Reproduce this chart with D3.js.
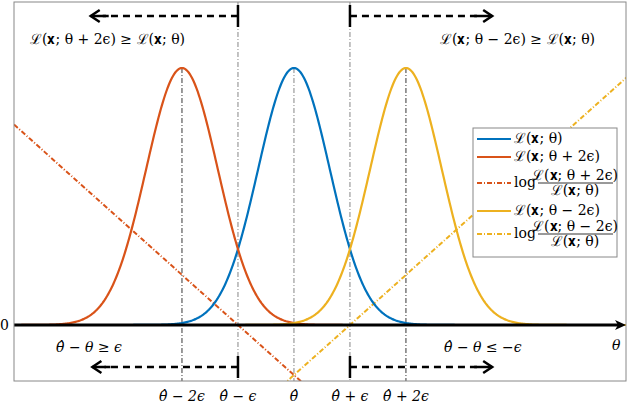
<!DOCTYPE html>
<html><head><meta charset="utf-8">
<script src="https://cdn.jsdelivr.net/npm/d3@7"></script>
<style>
body{margin:0;background:#fff}
text{font-family:"DejaVu Serif",serif;font-size:14px}
</style></head><body>
<svg id="c" width="630" height="406"></svg>
<script>
// values in units of epsilon, theta-hat = 0
var centers = [0, -2, 2]           // L(x;theta), L(x;theta+2e), L(x;theta-2e)
var colors = ["#0072BD", "#D95319", "#EDB120"]
var sigma = 0.64
var slope = 0.195                  // log-ratio line slope
var tickVals = [-2, -1, 0, 1, 2]
var tickLabels = ["θ̂ − 2ϵ", "θ̂ − ϵ", "θ̂", "θ̂ + ϵ", "θ̂ + 2ϵ"]

var svg = d3.select("#c")
var x = d3.scaleLinear().domain([-5, 5.93]).range([14, 626])
var y = d3.scaleLinear().domain([-0.218, 1.257]).range([381, 2])

svg.append("defs").append("clipPath").attr("id", "clip")
  .append("rect").attr("x", 14).attr("y", 2).attr("width", 612).attr("height", 379)

var g = svg.append("g").attr("clip-path", "url(#clip)")

var xs = d3.range(-5, 5.95, 0.02)
var line = d3.line().x(function(d){ return x(d[0]) }).y(function(d){ return y(d[1]) })

// vertical guide lines
;[-2, 2].forEach(function(v){
  g.append("line").attr("x1", x(v)).attr("x2", x(v)).attr("y1", y(1)).attr("y2", 381)
    .attr("stroke", "#000").attr("stroke-width", 0.8).attr("stroke-dasharray", "5,2,1,2")
})
g.append("line").attr("x1", x(0)).attr("x2", x(0)).attr("y1", y(1)).attr("y2", 381)
  .attr("stroke", "#666").attr("stroke-width", 0.8).attr("stroke-dasharray", "5,2,1,2")
;[-1, 1].forEach(function(v){
  g.append("line").attr("x1", x(v)).attr("x2", x(v)).attr("y1", 2).attr("y2", 381)
    .attr("stroke", "#666").attr("stroke-width", 0.8).attr("stroke-dasharray", "5,2,1,2")
})

// log ratio lines
g.append("path").datum(xs.map(function(t){ return [t, -slope * (t + 1)] }))
  .attr("d", line).attr("fill", "none").attr("stroke", colors[1]).attr("stroke-width", 2)
  .attr("stroke-dasharray", "5,2,1,2")
g.append("path").datum(xs.map(function(t){ return [t, slope * (t - 1)] }))
  .attr("d", line).attr("fill", "none").attr("stroke", colors[2]).attr("stroke-width", 2)
  .attr("stroke-dasharray", "5,2,1,2")

// gaussians
centers.forEach(function(c, i){
  g.append("path").datum(xs.map(function(t){ return [t, Math.exp(-(t - c) * (t - c) / (2 * sigma * sigma))] }))
    .attr("d", line).attr("fill", "none").attr("stroke", colors[i]).attr("stroke-width", 2.2)
})

// x axis line with arrow
svg.append("line").attr("x1", 14).attr("x2", 618).attr("y1", y(0)).attr("y2", y(0))
  .attr("stroke", "#000").attr("stroke-width", 3)
svg.append("path").attr("d", "M626," + y(0) + " l-11,-5 l3,5 l-3,5 z").attr("fill", "#000")

// box
svg.append("rect").attr("x", 14).attr("y", 2).attr("width", 612).attr("height", 379)
  .attr("fill", "none").attr("stroke", "#888").attr("stroke-width", 1)

// dashed arrows
function arrow(xa, xb, yy){
  svg.append("line").attr("x1", x(xa)).attr("x2", x(xa)).attr("y1", yy - 11).attr("y2", yy + 11)
    .attr("stroke", "#000").attr("stroke-width", 2.5)
  var dir = xb > xa ? 1 : -1
  svg.append("line").attr("x1", x(xa)).attr("x2", x(xb) - dir * 12).attr("y1", yy).attr("y2", yy)
    .attr("stroke", "#000").attr("stroke-width", 2.5).attr("stroke-dasharray", "7,5")
  svg.append("line").attr("x1", x(xb) - dir * 18).attr("x2", x(xb)).attr("y1", yy).attr("y2", yy)
    .attr("stroke", "#000").attr("stroke-width", 2.5)
  svg.append("path").attr("d", "M" + (x(xb) - dir * 9) + "," + (yy - 6) + " L" + x(xb) + "," + yy + " L" + (x(xb) - dir * 9) + "," + (yy + 6))
    .attr("fill", "none").attr("stroke", "#000").attr("stroke-width", 2.5)
}
arrow(-1, -3.63, 16)
arrow(1, 3.54, 16)
arrow(-1, -3.6, 367)
arrow(1, 3.54, 367)

// text labels
svg.append("text").attr("x", 30).attr("y", 44).text("ℒ(𝐱; θ + 2ϵ) ≥ ℒ(𝐱; θ)")
svg.append("text").attr("x", 440).attr("y", 44).text("ℒ(𝐱; θ − 2ϵ) ≥ ℒ(𝐱; θ)")
svg.append("text").attr("x", 56).attr("y", 352).attr("font-style", "italic").text("θ̂ − θ ≥ ϵ")
svg.append("text").attr("x", 444).attr("y", 352).attr("font-style", "italic").text("θ̂ − θ ≤ −ϵ")
svg.append("text").attr("x", 612).attr("y", 350).attr("font-style", "italic").text("θ")
svg.append("text").attr("x", 0).attr("y", y(0) + 5).text("0")

svg.selectAll(".tk").data(tickVals).enter().append("text").attr("class", "tk")
  .attr("x", function(d){ return x(d) }).attr("y", 401).attr("text-anchor", "middle")
  .attr("font-style", "italic").attr("font-size", 13).text(function(d, i){ return tickLabels[i] })

// legend
var lg = svg.append("g").attr("transform", "translate(473,128)")
lg.append("rect").attr("width", 144).attr("height", 129).attr("fill", "#fff").attr("stroke", "#888")
var items = [
  {c: colors[0], dash: null, t: "ℒ(𝐱; θ)", y: 11},
  {c: colors[1], dash: null, t: "ℒ(𝐱; θ + 2ϵ)", y: 29},
  {c: colors[1], dash: "5,2,1,2", t: null, num: "ℒ(𝐱; θ + 2ϵ)", y: 55},
  {c: colors[2], dash: null, t: "ℒ(𝐱; θ − 2ϵ)", y: 83},
  {c: colors[2], dash: "5,2,1,2", t: null, num: "ℒ(𝐱; θ − 2ϵ)", y: 106}
]
items.forEach(function(it){
  lg.append("line").attr("x1", 4).attr("x2", 38).attr("y1", it.y).attr("y2", it.y)
    .attr("stroke", it.c).attr("stroke-width", 2).attr("stroke-dasharray", it.dash)
  if (it.t) {
    lg.append("text").attr("x", 41).attr("y", it.y + 4).attr("font-size", 11.5).text(it.t)
  } else {
    lg.append("text").attr("x", 41).attr("y", it.y + 4).attr("font-size", 11.5).text("log")
    lg.append("text").attr("x", 102).attr("y", it.y - 3).attr("font-size", 11).attr("text-anchor", "middle").text(it.num)
    lg.append("line").attr("x1", 65).attr("x2", 140).attr("y1", it.y).attr("y2", it.y).attr("stroke", "#000").attr("stroke-width", 0.8)
    lg.append("text").attr("x", 102).attr("y", it.y + 12).attr("font-size", 11).attr("text-anchor", "middle").text("ℒ(𝐱; θ)")
  }
})
</script></body></html>
